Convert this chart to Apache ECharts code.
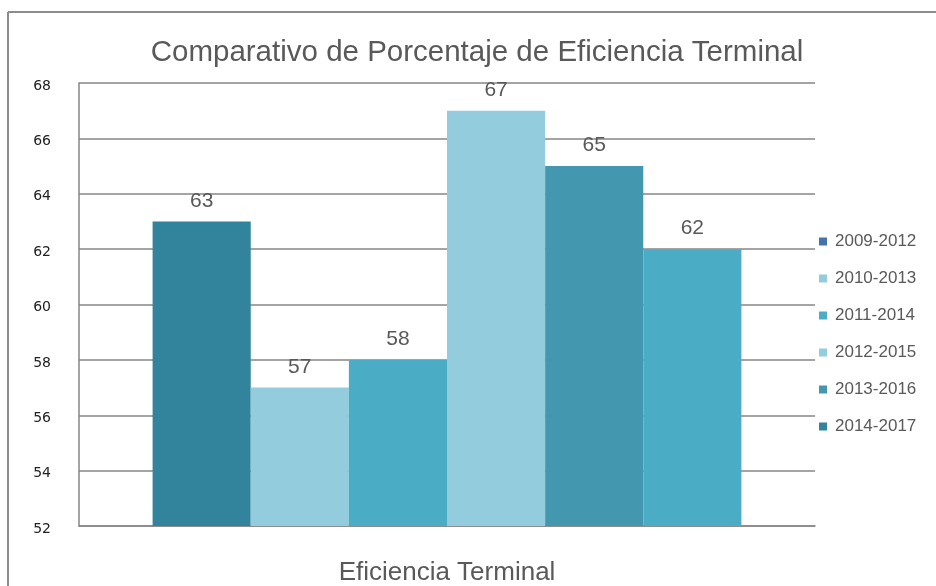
<!DOCTYPE html>
<html>
<head>
<meta charset="utf-8">
<script src="https://cdn.jsdelivr.net/npm/echarts@6/dist/echarts.min.js"></script>
<style>
html,body{margin:0;padding:0;background:#fff;}
#c{width:936px;height:586px;}
</style>
</head>
<body>
<div id="c"></div>
<script>
const categories = ['Eficiencia Terminal'];
const seriesNames = ['2009-2012', '2010-2013', '2011-2014', '2012-2015', '2013-2016', '2014-2017'];
const values = [63, 57, 58, 67, 65, 62];
const yTicks = { min: 52, max: 68, interval: 2 };

const legendColors = ['#4672AA', '#93CDDD', '#4BACC6', '#93CDDD', '#4397AF', '#31859C'];
const barColors = ['#31849B', '#93CDDD', '#4BACC6', '#93CDDD', '#4397AF', '#4BACC6'];

const chart = echarts.init(document.getElementById('c'));
const font = 'Liberation Sans, Arial, sans-serif';

const series = seriesNames.map((name, i) => ({
  name: name,
  type: 'bar',
  color: legendColors[i],
  barGap: '0%',
  barCategoryGap: '20%',
  data: [{ value: values[i], itemStyle: { color: barColors[i] } }],
  label: {
    show: true,
    position: 'top',
    distance: 10,
    fontSize: 21,
    color: '#595959',
    fontFamily: font
  }
}));

chart.setOption({
  animation: false,
  backgroundColor: '#fff',
  title: {
    text: 'Comparativo de Porcentaje de Eficiencia Terminal',
    left: 472,
    textAlign: 'center',
    top: 33,
    textStyle: { fontSize: 29.5, fontWeight: 'normal', color: '#595959', fontFamily: font }
  },
  legend: {
    orient: 'vertical',
    left: 814,
    top: 228,
    itemWidth: 8,
    itemHeight: 8,
    itemGap: 20,
    icon: 'rect',
    data: seriesNames,
    textStyle: { fontSize: 17, color: '#595959', fontFamily: font, padding: [2, 0, 0, 3] }
  },
  grid: { left: 79, right: 121, top: 83, bottom: 60, containLabel: false, outerBoundsMode: 'none' },
  xAxis: {
    type: 'category',
    data: categories,
    name: 'Eficiencia Terminal',
    nameLocation: 'middle',
    nameGap: 34,
    nameTextStyle: { fontSize: 26, color: '#595959', fontFamily: font },
    axisLine: { lineStyle: { color: '#868686', width: 1.5 } },
    axisTick: { show: false },
    axisLabel: { show: false }
  },
  yAxis: {
    type: 'value',
    min: yTicks.min,
    max: yTicks.max,
    interval: yTicks.interval,
    axisLine: { show: true, lineStyle: { color: '#868686', width: 1.5 } },
    axisTick: { show: false },
    axisLabel: { fontSize: 14, color: '#222', margin: 28, fontFamily: 'DejaVu Sans, sans-serif', lineHeight: 20, verticalAlign: 'top', padding: [-7, 0, 0, 0] },
    splitLine: { lineStyle: { color: '#868686', width: 1.5 } }
  },
  graphic: [
    { type: 'line', shape: { x1: 8, y1: 12, x2: 936, y2: 12 }, style: { stroke: '#8c8c8c', lineWidth: 2 } },
    { type: 'line', shape: { x1: 8, y1: 12, x2: 8, y2: 586 }, style: { stroke: '#8c8c8c', lineWidth: 2 } }
  ],
  series: series
});
</script>
</body>
</html>
